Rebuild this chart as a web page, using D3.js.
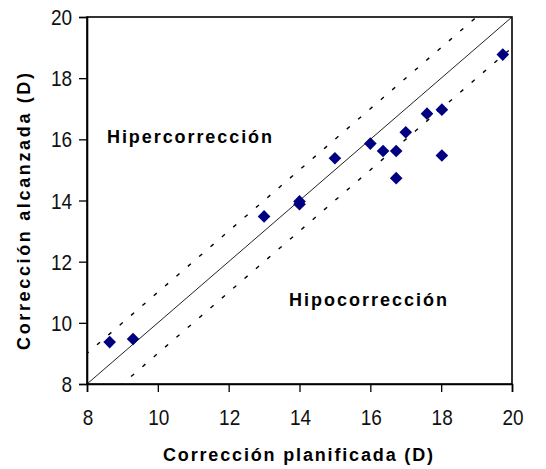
<!DOCTYPE html>
<html>
<head>
<meta charset="utf-8">
<script src="https://cdn.jsdelivr.net/npm/d3@7"></script>
<style>
  html, body { margin: 0; padding: 0; background: #fff; }
  svg { display: block; font-family: "Liberation Sans", Arial, sans-serif; }
</style>
</head>
<body>
<svg id="chart" width="546" height="469"></svg>
<script>
// Planned vs achieved correction (diopters)
const planned  = [19.74, 18.02, 17.60, 17.00, 16.00, 16.36, 16.73, 16.73, 18.02, 15.00, 14.00, 14.00, 13.00, 8.64, 9.30];
const achieved = [18.77, 16.97, 16.84, 16.23, 15.86, 15.62, 15.62, 14.73, 15.47, 15.38, 13.97, 13.88, 13.48, 9.37, 9.47];
const xTicks = [8, 10, 12, 14, 16, 18, 20];
const yTicks = [8, 10, 12, 14, 16, 18, 20];
const refOffsets = [0, 1, -1];   // identity line and ±1 D band

const svg = d3.select("#chart");
const margin = { left: 87, right: 34, top: 17, bottom: 85 };
const W = 546, H = 469;

const x = d3.scaleLinear().domain([8, 20]).range([margin.left, W - margin.right]);
const y = d3.scaleLinear().domain([8, 20]).range([H - margin.bottom, margin.top]);

// clip for reference lines
svg.append("clipPath").attr("id", "plotClip")
  .append("rect")
  .attr("x", x(8)).attr("y", y(20))
  .attr("width", x(20) - x(8)).attr("height", y(8) - y(20));

const lineGen = d3.line().x(d => x(d[0])).y(d => y(d[1]));

svg.append("g").attr("clip-path", "url(#plotClip)")
  .selectAll("path.ref")
  .data(refOffsets)
  .join("path")
  .attr("class", "ref")
  .attr("d", o => lineGen([[7, 7 + o], [21, 21 + o]]))
  .attr("fill", "none")
  .attr("stroke", o => o === 0 ? "#222" : "#000")
  .attr("stroke-width", o => o === 0 ? 1 : 1.4)
  .attr("stroke-dasharray", o => o === 0 ? null : "4,11");

// plot frame
svg.append("rect")
  .attr("x", x(8)).attr("y", y(20))
  .attr("width", x(20) - x(8)).attr("height", y(8) - y(20))
  .attr("fill", "none").attr("stroke", "#000").attr("stroke-width", 1.6);

// axes (lines and ticks from d3, labels drawn below)
const xAxis = svg.append("g")
  .attr("transform", `translate(0,${y(8)})`)
  .call(d3.axisBottom(x).tickValues(xTicks).tickSize(8).tickFormat(""));
const yAxis = svg.append("g")
  .attr("transform", `translate(${x(8)},0)`)
  .call(d3.axisLeft(y).tickValues(yTicks).tickSize(8).tickFormat(""));

[xAxis, yAxis].forEach(g => {
  g.select(".domain").attr("stroke", "#000").attr("stroke-width", 1.6);
  g.selectAll(".tick line").attr("stroke", "#000").attr("stroke-width", 1.3);
});

// tick labels: tall, narrow digits
svg.append("g").selectAll("text")
  .data(xTicks)
  .join("text")
  .attr("transform", d => `translate(${x(d) + 1},425) scale(1,1.2)`)
  .attr("text-anchor", "middle")
  .attr("font-size", 19)
  .attr("fill", "#111")
  .text(d => d);
svg.append("g").selectAll("text")
  .data(yTicks)
  .join("text")
  .attr("transform", d => `translate(72,${y(d) + 8}) scale(1,1.2)`)
  .attr("text-anchor", "end")
  .attr("font-size", 19)
  .attr("fill", "#111")
  .text(d => d);

// data markers (diamonds)
svg.append("g")
  .selectAll("path.pt")
  .data(planned.map((p, i) => [p, achieved[i]]))
  .join("path")
  .attr("class", "pt")
  .attr("transform", d => `translate(${x(d[0])},${y(d[1])}) rotate(45)`)
  .attr("d", d3.symbol().type(d3.symbolSquare).size(80))
  .attr("fill", "#000080");

// region labels
svg.append("text")
  .attr("x", 107).attr("y", 143)
  .attr("font-size", 18).attr("font-weight", "bold")
  .attr("textLength", 165).attr("lengthAdjust", "spacing")
  .text("Hipercorrección");
svg.append("text")
  .attr("x", 289).attr("y", 306)
  .attr("font-size", 18).attr("font-weight", "bold")
  .attr("textLength", 158).attr("lengthAdjust", "spacing")
  .text("Hipocorrección");

// axis titles
svg.append("text")
  .attr("x", 163).attr("y", 461)
  .attr("font-size", 18).attr("font-weight", "bold")
  .attr("textLength", 270).attr("lengthAdjust", "spacing")
  .text("Corrección planificada (D)");
svg.append("text")
  .attr("transform", "translate(30,350) rotate(-90)")
  .attr("font-size", 18).attr("font-weight", "bold")
  .attr("textLength", 277).attr("lengthAdjust", "spacing")
  .text("Corrección alcanzada  (D)");
</script>
</body>
</html>
